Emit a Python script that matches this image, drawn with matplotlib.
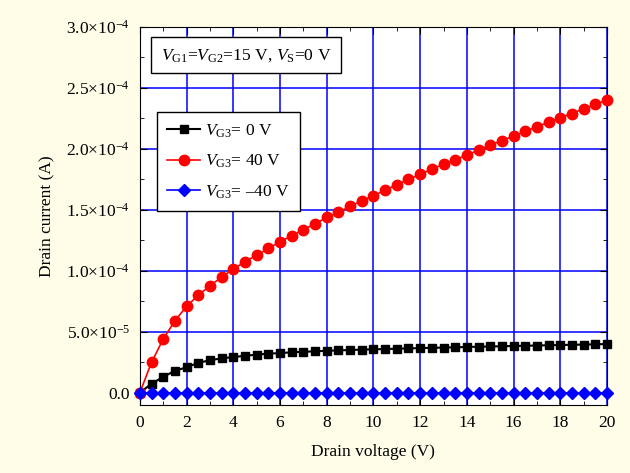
import matplotlib.pyplot as plt
import numpy as np
from matplotlib.ticker import MultipleLocator, FuncFormatter

plt.rcParams['font.family'] = ['Liberation Serif', 'DejaVu Serif']
plt.rcParams['mathtext.fontset'] = 'custom'
plt.rcParams['mathtext.rm'] = 'Liberation Serif'
plt.rcParams['mathtext.it'] = 'Liberation Serif:italic'
plt.rcParams['mathtext.bf'] = 'Liberation Serif:bold'

# drain voltage sweep (V)
vd = np.arange(0, 20.01, 0.5)

# drain current (A) for each gate-3 bias
id_vg0 = np.array([0.0, 0.74, 1.29, 1.80, 2.08, 2.45, 2.66, 2.82, 2.92, 3.03, 3.12,
                   3.20, 3.25, 3.31, 3.36, 3.39, 3.44, 3.47, 3.50, 3.53, 3.56,
                   3.58, 3.61, 3.63, 3.66, 3.68, 3.70, 3.72, 3.75, 3.77, 3.79,
                   3.81, 3.83, 3.85, 3.87, 3.89, 3.91, 3.93, 3.95, 3.97, 3.99]) * 1e-5
id_vg40 = np.array([0.0, 2.49, 4.40, 5.90, 7.08, 8.00, 8.77, 9.48, 10.14, 10.74, 11.29,
                    11.83, 12.38, 12.87, 13.37, 13.86, 14.38, 14.80, 15.28, 15.74, 16.15,
                    16.62, 17.06, 17.49, 17.90, 18.34, 18.72, 19.11, 19.49, 19.90, 20.31,
                    20.66, 21.05, 21.46, 21.81, 22.20, 22.55, 22.90, 23.29, 23.64, 24.00]) * 1e-5
id_vgm40 = np.zeros(len(vd))

fig = plt.figure(figsize=(6.3, 4.73), dpi=100, facecolor='#FFFDE7')
ax = fig.add_axes([0.222, 0.144, 0.7415, 0.799])
ax.set_facecolor('white')

ax.plot(vd, id_vg0, color='black', marker='s', markersize=6, linewidth=1.5,
        label=r'$V_{\mathrm{G3}}$= 0 V', clip_on=False, zorder=4)
ax.plot(vd, id_vg40, color='red', marker='o', markersize=7.5, linewidth=1.2,
        label=r'$V_{\mathrm{G3}}$= 40 V', clip_on=False, zorder=4)
ax.plot(vd, id_vgm40, color='blue', marker='D', markersize=6.5, linewidth=1.2,
        label=r'$V_{\mathrm{G3}}$= –40 V', clip_on=False, zorder=5)

ax.set_xlim(0, 20)
ax.set_ylim(-1e-5, 3e-4)
ax.xaxis.set_major_locator(MultipleLocator(2))
ax.xaxis.set_minor_locator(MultipleLocator(1))
ax.yaxis.set_major_locator(MultipleLocator(5e-5))
ax.yaxis.set_minor_locator(MultipleLocator(2.5e-5))


def sci(v, pos):
    if abs(v) < 1e-12:
        return '0.0'
    e = int(np.floor(np.log10(abs(v))))
    m = v / 10 ** e
    return r'$\mathrm{%.1f{\times}10^{%d}}$' % (m, e)


ax.yaxis.set_major_formatter(FuncFormatter(sci))
ax.grid(True, which='major', color='#0000FF', linewidth=1.1)
ax.set_axisbelow(True)
ax.tick_params(which='both', direction='in', top=True, right=True, labelsize=12.5)
ax.tick_params(which='major', length=5, pad=7)
ax.tick_params(which='minor', length=3)

ax.set_xlabel('Drain voltage (V)', fontsize=12.5, labelpad=10)
ax.set_ylabel('Drain current (A)', fontsize=12.5, labelpad=8)

ax.text(0.045, 0.925, r'$V_{\mathrm{G1}}$=$V_{\mathrm{G2}}$=15 V, $V_{\mathrm{S}}$=0 V',
        transform=ax.transAxes, fontsize=12.6, va='center', ha='left',
        bbox=dict(boxstyle='square,pad=0.55', facecolor='white', edgecolor='black', linewidth=1))

leg = ax.legend(loc='upper left', bbox_to_anchor=(0.036, 0.775), fontsize=12.5,
                fancybox=False, edgecolor='black', framealpha=1, handlelength=1.9,
                handletextpad=0.3, borderpad=0.6, labelspacing=0.75, borderaxespad=0)
leg.get_frame().set_linewidth(1)

fig.savefig('out.png', dpi=100, facecolor=fig.get_facecolor())
